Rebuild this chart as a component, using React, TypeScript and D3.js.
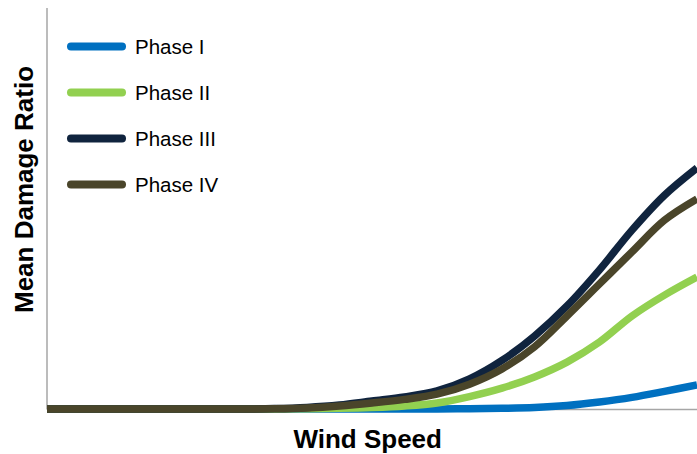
import React from "react";
import * as d3 from "d3";

const windSpeed = [0, 1, 2, 3, 4, 5, 6, 7, 8, 9, 10, 11, 12, 13, 14, 15, 16, 17, 18, 19, 20];
const phaseI = [0, 0, 0, 0, 0, 0, 0, 0, 0, 0, 0, 0, 0, 0.0007, 0.0017, 0.0037, 0.0087, 0.0175, 0.029, 0.044, 0.06];
const phaseII = [0, 0, 0, 0, 0, 0, 0, 0, 0.0007, 0.0017, 0.0037, 0.0075, 0.015, 0.031, 0.052, 0.08, 0.117, 0.167, 0.232, 0.284, 0.329];
const phaseIII = [0, 0, 0, 0, 0, 0, 0, 0.001, 0.004, 0.01, 0.02, 0.03, 0.045, 0.075, 0.121, 0.182, 0.257, 0.347, 0.446, 0.533, 0.601];
const phaseIV = [0, 0, 0, 0, 0, 0, 0, 0.0005, 0.0025, 0.0075, 0.015, 0.024, 0.037, 0.062, 0.1, 0.155, 0.232, 0.312, 0.392, 0.471, 0.524];

const seriesNames = ["Phase I", "Phase II", "Phase III", "Phase IV"];
const seriesValues = [phaseI, phaseII, phaseIII, phaseIV];
const seriesColors = ["#0070C0", "#92D050", "#10243E", "#4A452A"];

const W = 697;
const H = 454;
const left = 47;
const right = 697;
const top = 8;
const bottom = 409;

export default function App() {
  const x = d3.scaleLinear().domain([windSpeed[0], windSpeed[windSpeed.length - 1]]).range([left, right]);
  const y = d3.scaleLinear().domain([0, 1]).range([bottom, top]);
  const line = d3
    .line<number>()
    .x((_, i) => x(windSpeed[i]))
    .y((d) => y(d))
    .curve(d3.curveCatmullRom.alpha(0.5));

  return (
    <div style={{ position: "fixed", left: 0, top: 0 }}>
      <svg width={W} height={H} style={{ display: "block", background: "#fff" }}>
        <line x1={left} x2={left} y1={top} y2={bottom + 0.5} stroke="#A6A6A6" strokeWidth={1.5} />
        <line x1={left} x2={right} y1={bottom + 0.5} y2={bottom + 0.5} stroke="#A6A6A6" strokeWidth={1.5} />
        {seriesValues.map((vals, k) => (
          <path key={k} d={line(vals) || ""} fill="none" stroke={seriesColors[k]} strokeWidth={7.5} strokeLinejoin="round" />
        ))}
        {seriesNames.map((name, k) => {
          const ly = 46.5 + k * 46;
          return (
            <g key={name}>
              <line x1={71} x2={122} y1={ly} y2={ly} stroke={seriesColors[k]} strokeWidth={8} strokeLinecap="round" />
              <text x={135} y={ly + 7.5} fontFamily="'Liberation Sans', Arial, sans-serif" fontSize={20.5} fill="#000">
                {name}
              </text>
            </g>
          );
        })}
        <text
          transform={`translate(33, 189.5) rotate(-90)`}
          textAnchor="middle"
          fontFamily="'Liberation Sans', Arial, sans-serif"
          fontWeight="bold"
          fontSize={26}
          fill="#000"
        >
          Mean Damage Ratio
        </text>
        <text
          x={367.7}
          y={448}
          textAnchor="middle"
          fontFamily="'Liberation Sans', Arial, sans-serif"
          fontWeight="bold"
          fontSize={26}
          fill="#000"
        >
          Wind Speed
        </text>
      </svg>
    </div>
  );
}
